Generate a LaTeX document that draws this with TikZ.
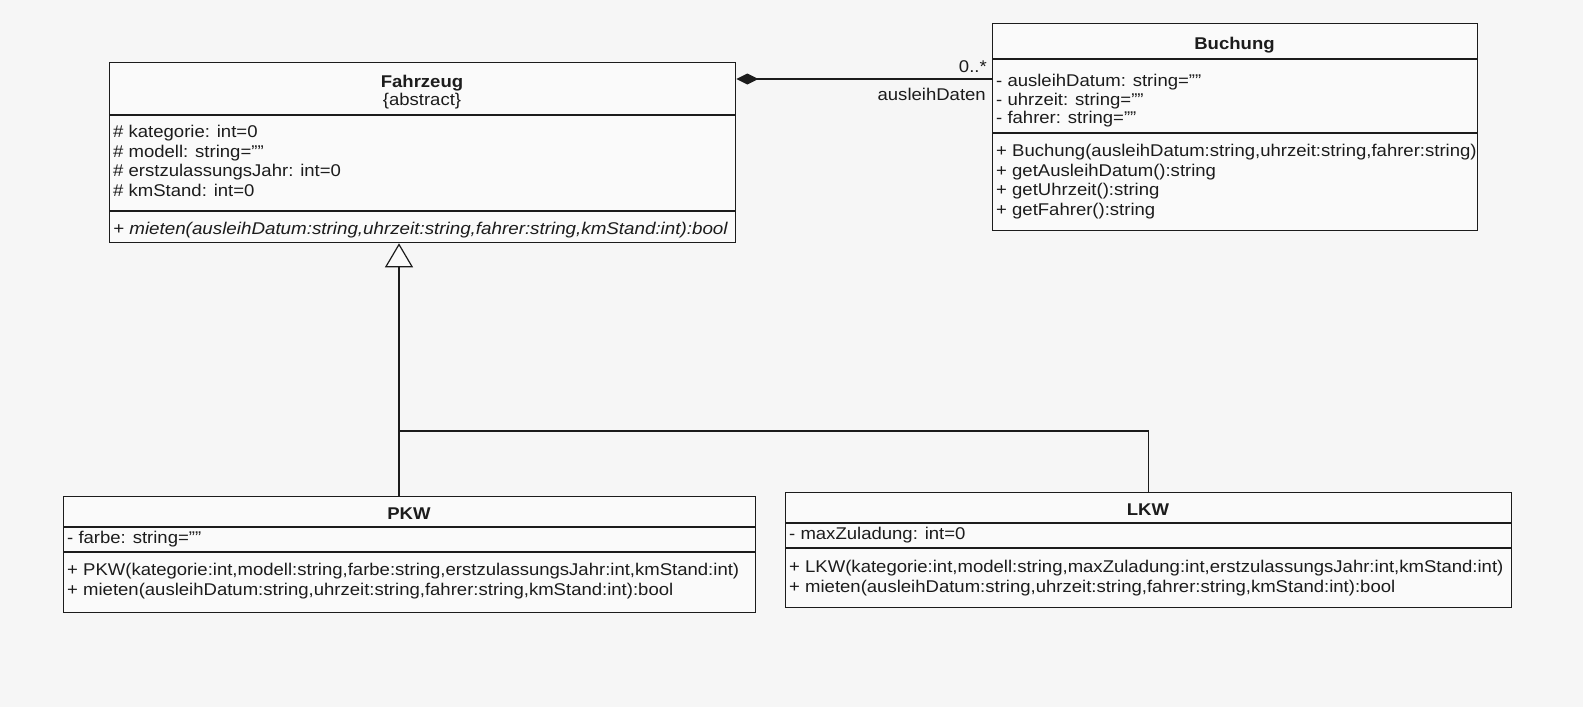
\documentclass[tikz,border=0pt]{standalone}
\usepackage{fontspec}
\setmainfont{Liberation Sans}[FakeStretch=1.09]
\newfontfamily\itfam{Liberation Sans}[FakeStretch=1.105]
\usetikzlibrary{arrows.meta}
\definecolor{ink}{HTML}{1C1C1C}
\definecolor{paper}{HTML}{F6F6F6}
\newcommand{\umlf}{\fontsize{17pt}{20pt}\selectfont}
\tikzset{
  classbox/.style={draw=ink, line width=1.3pt, anchor=north west, inner sep=0pt, fill=white!50!paper},
  divider/.style={draw=ink, line width=1.2pt},
  txt/.style={anchor=base west, inner sep=0pt, font=\umlf, text=ink},
  ttl/.style={anchor=base, inner sep=0pt, font=\umlf, text=ink},
  conn/.style={draw=ink, line width=1.2pt},
}
\begin{document}
\begin{tikzpicture}[x=1pt,y=-1pt]
\fill[paper] (0,0) rectangle (1583,707);
\useasboundingbox (0,0) rectangle (1583,707);

% ---------- Fahrzeug ----------
\node[classbox, minimum width=626pt, minimum height=180pt] (fz) at (109,62) {};
\node[ttl] (fz-t1) at (422,87) {\textbf{Fahrzeug}};
\node[ttl] (fz-t2) at (422,105) {\{abstract\}};
\draw[divider] (109,115) -- (735,115);
\node[txt] (fz-a1) at (113,137.5) {\# kategorie: int=0};
\node[txt] (fz-a2) at (113,157) {\# modell: string=""};
\node[txt] (fz-a3) at (113,176.5) {\# erstzulassungsJahr: int=0};
\node[txt] (fz-a4) at (113,196) {\# kmStand: int=0};
\draw[divider] (109,211) -- (735,211);
\node[txt] (fz-m1) at (113,234) {{\itfam\itshape + mieten(ausleihDatum:string,uhrzeit:string,fahrer:string,kmStand:int):bool}};

% ---------- Buchung ----------
\node[classbox, minimum width=485pt, minimum height=207pt] (bu) at (992,23) {};
\node[ttl] (bu-t1) at (1234.5,49) {\textbf{Buchung}};
\draw[divider] (992,59) -- (1477,59);
\node[txt] (bu-a1) at (996,86) {- ausleihDatum: string=""};
\node[txt] (bu-a2) at (996,105) {- uhrzeit: string=""};
\node[txt] (bu-a3) at (996,123.5) {- fahrer: string=""};
\draw[divider] (992,133) -- (1477,133);
\node[txt] (bu-m1) at (996,156.5) {+ Buchung(ausleihDatum:string,uhrzeit:string,fahrer:string)};
\node[txt] (bu-m2) at (996,176) {+ getAusleihDatum():string};
\node[txt] (bu-m3) at (996,195.5) {+ getUhrzeit():string};
\node[txt] (bu-m4) at (996,215) {+ getFahrer():string};

% ---------- PKW ----------
\node[classbox, minimum width=692pt, minimum height=116pt] (pk) at (63,496) {};
\node[ttl] (pk-t1) at (409,519) {\textbf{PKW}};
\draw[divider] (63,527) -- (755,527);
\node[txt] (pk-a1) at (67,543.5) {- farbe: string=""};
\draw[divider] (63,552) -- (755,552);
\node[txt] (pk-m1) at (67,575.5) {+ PKW(kategorie:int,modell:string,farbe:string,erstzulassungsJahr:int,kmStand:int)};
\node[txt] (pk-m2) at (67,595.5) {+ mieten(ausleihDatum:string,uhrzeit:string,fahrer:string,kmStand:int):bool};

% ---------- LKW ----------
\node[classbox, minimum width=726pt, minimum height=115pt] (lk) at (785,492) {};
\node[ttl] (lk-t1) at (1148,515) {\textbf{LKW}};
\draw[divider] (785,523) -- (1511,523);
\node[txt] (lk-a1) at (789,539.5) {- maxZuladung: int=0};
\draw[divider] (785,548) -- (1511,548);
\node[txt] (lk-m1) at (789,572) {+ LKW(kategorie:int,modell:string,maxZuladung:int,erstzulassungsJahr:int,kmStand:int)};
\node[txt] (lk-m2) at (789,592) {+ mieten(ausleihDatum:string,uhrzeit:string,fahrer:string,kmStand:int):bool};

% ---------- composition ----------
\coordinate (cy) at (0,79);
\draw[conn, -{Diamond[length=22pt,width=11pt,fill=ink]}] (bu.west |- cy) -- (fz.east |- cy);
\node[anchor=base east, inner sep=0pt, font=\umlf, text=ink] (mult) at (987,72) {0..*};
\node[anchor=base east, inner sep=0pt, font=\umlf, text=ink] (role) at (986,100) {ausleihDaten};

% ---------- generalization ----------
\coordinate (j) at (399,431);
\draw[conn, -{Triangle[open,length=24pt,width=28pt,fill=white!50!paper]}] (pk.north -| j) -- (fz.south -| j);
\draw[conn] (j) -| (lk.north);
\end{tikzpicture}
\end{document}
